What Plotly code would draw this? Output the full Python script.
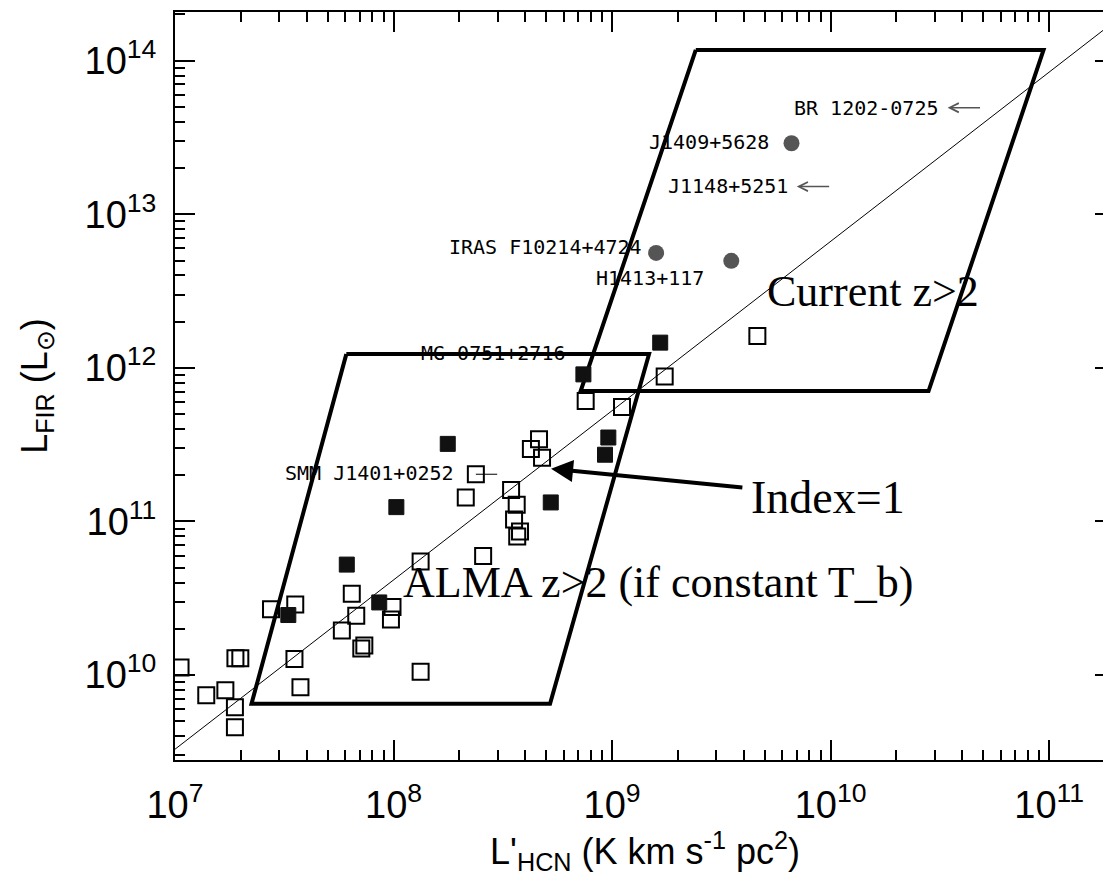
import math
import plotly.graph_objects as go

# ---------------- data ----------------
# open squares: local / low-z galaxies
open_x = [1.06e7, 1.39e7, 1.70e7, 1.88e7, 1.88e7, 1.89e7, 1.99e7, 2.75e7, 3.55e7, 3.52e7, 3.75e7,
          6.44e7, 6.75e7, 5.80e7, 7.12e7, 7.35e7, 9.89e7, 9.73e7, 1.33e8, 1.33e8, 2.14e8, 2.38e8,
          2.57e8, 3.45e8, 3.66e8, 3.56e8, 3.68e8, 3.79e8, 4.25e8, 4.63e8, 4.78e8, 7.57e8, 1.11e9,
          1.74e9, 4.62e9]
open_y = [1.12e10, 7.39e9, 7.97e9, 6.18e9, 4.58e9, 1.285e10, 1.285e10, 2.68e10, 2.88e10, 1.27e10, 8.33e9,
          3.38e10, 2.43e10, 1.95e10, 1.49e10, 1.56e10, 2.77e10, 2.30e10, 1.05e10, 5.48e10, 1.43e11, 2.03e11,
          5.95e10, 1.60e11, 1.285e11, 1.03e11, 7.97e10, 8.59e10, 2.96e11, 3.43e11, 2.60e11, 6.09e11, 5.57e11,
          8.78e11, 1.61e12]

# filled squares
filled_x = [3.30e7, 6.11e7, 8.60e7, 1.03e8, 1.77e8, 5.24e8, 7.39e8, 9.61e8, 9.28e8, 1.66e9]
filled_y = [2.46e10, 5.24e10, 2.97e10, 1.24e11, 3.20e11, 1.33e11, 9.07e11, 3.52e11, 2.72e11, 1.46e12]

# high-z detections (grey dots)
hiz_x = [1.59e9, 3.51e9, 6.62e9]
hiz_y = [5.60e12, 4.98e12, 2.90e13]

# high-z upper limits (arrow tails)
limit_x = [4.90e10, 1.00e10]
limit_y = [4.94e13, 1.515e13]

# SMM J1401+0252 (square with bar)
smm_x = [2.38e8, 2.98e8]
smm_y = [2.03e11, 2.03e11]

# Index = 1 relation
line_x = [1.0e7, 2.0e11]
line_y = [3.29e9, 1.81e14]

# parallelograms
current_box_x = [2.415e9, 9.42e10, 2.805e10, 7.18e8, 2.415e9]
current_box_y = [1.175e14, 1.175e14, 7.06e11, 7.06e11, 1.175e14]
alma_box_x = [6.08e7, 1.476e9, 5.20e8, 2.239e7, 6.08e7]
alma_box_y = [1.229e12, 1.229e12, 6.51e9, 6.51e9, 1.229e12]

# source labels: (text, left x, centre y)
src_labels = ["BR 1202-0725", "J1409+5628", "J1148+5251", "IRAS F10214+4724",
              "H1413+117", "MG 0751+2716", "SMM J1401+0252"]
src_label_x = [6.64e9, 1.444e9, 1.763e9, 1.76e8, 8.27e8, 1.311e8, 3.13e7]
src_label_y = [4.94e13, 2.97e13, 1.538e13, 6.09e12, 3.83e12, 1.248e12, 2.075e11]

x_tickvals = [1e7, 1e8, 1e9, 1e10, 1e11]
x_ticktext = ["10<sup>7</sup>", "10<sup>8</sup>", "10<sup>9</sup>", "10<sup>10</sup>", "10<sup>11</sup>"]
y_tickvals = [1e10, 1e11, 1e12, 1e13, 1e14]
y_ticktext = ["10<sup>10</sup>", "10<sup>11</sup>", "10<sup>12</sup>", "10<sup>13</sup>", "10<sup>14</sup>"]


def minors(lo, hi):
    out = []
    for e in range(lo, hi + 1):
        for m in range(2, 10):
            out.append(m * 10 ** e)
    return out


x_minor = minors(7, 11)
y_minor = minors(9, 14)

L = math.log10
SANS = "Liberation Sans Narrow, Liberation Sans, Arial, sans-serif"
SERIF = "Liberation Serif, Times New Roman, serif"
MONO = "DejaVu Sans Mono, monospace"

fig = go.Figure()
fig.add_trace(go.Scatter(x=line_x, y=line_y, mode="lines",
                         line=dict(color="black", width=1), hoverinfo="skip"))
fig.add_trace(go.Scatter(x=current_box_x, y=current_box_y, mode="lines",
                         line=dict(color="black", width=4), hoverinfo="skip"))
fig.add_trace(go.Scatter(x=alma_box_x, y=alma_box_y, mode="lines",
                         line=dict(color="black", width=4), hoverinfo="skip"))
fig.add_trace(go.Scatter(x=smm_x, y=smm_y, mode="lines",
                         line=dict(color="black", width=1), hoverinfo="skip"))
fig.add_trace(go.Scatter(x=open_x, y=open_y, mode="markers",
                         marker=dict(symbol="square-open", size=16, color="black",
                                     line=dict(width=2, color="black"))))
fig.add_trace(go.Scatter(x=filled_x, y=filled_y, mode="markers",
                         marker=dict(symbol="square", size=15, color="#111111",
                                     line=dict(width=1, color="#111111"))))
fig.add_trace(go.Scatter(x=hiz_x, y=hiz_y, mode="markers",
                         marker=dict(symbol="circle", size=16, color="#555555",
                                     line=dict(width=0))))

annotations = []
# upper-limit arrows
for tx, ty in zip(limit_x, limit_y):
    annotations.append(dict(x=L(tx * 0.70), y=L(ty), ax=L(tx), ay=L(ty),
                            xref="x", yref="y", axref="x", ayref="y", text="",
                            showarrow=True, arrowhead=5, arrowsize=1.2, arrowwidth=1.5,
                            arrowcolor="#555555"))
# source labels
for t, lx, ly in zip(src_labels, src_label_x, src_label_y):
    annotations.append(dict(x=L(lx), y=L(ly), xref="x", yref="y", text=t, showarrow=False,
                            xanchor="left", yanchor="middle",
                            font=dict(family=MONO, size=20, color="black")))
# big labels
annotations.append(dict(x=9.6988, y=12.4987, xref="x", yref="y", text="Current z>2",
                        showarrow=False, xanchor="left", yanchor="middle",
                        font=dict(family=SERIF, size=44, color="black")))
annotations.append(dict(x=9.6257, y=11.1545, xref="x", yref="y", text="Index=1",
                        showarrow=False, xanchor="left", yanchor="middle",
                        font=dict(family=SERIF, size=46, color="black")))
annotations.append(dict(x=8.0352, y=10.6026, xref="x", yref="y",
                        text="ALMA z>2 (if constant T_b)",
                        showarrow=False, xanchor="left", yanchor="middle",
                        font=dict(family=SERIF, size=44, color="black")))
# Index=1 arrow
annotations.append(dict(x=8.7207, y=11.3429, ax=9.6029, ay=11.2195, xref="x", yref="y",
                        axref="x", ayref="y", text="", showarrow=True, arrowhead=2,
                        arrowsize=1.1, arrowwidth=4, arrowcolor="black"))

axis_common = dict(type="log", ticks="inside", ticklen=20, tickwidth=2, tickcolor="black",
                   showline=True, linecolor="black", linewidth=2, mirror="ticks",
                   showgrid=False, zeroline=False,
                   tickfont=dict(family=SANS, size=38, color="black"))

fig.update_layout(
    width=1111, height=880,
    margin=dict(l=167, r=2, t=2, b=128),
    paper_bgcolor="white", plot_bgcolor="white",
    showlegend=False,
    xaxis=dict(axis_common, range=[7, L(2e11)], tickmode="array", tickvals=x_tickvals,
               ticktext=x_ticktext, ticklabelstandoff=10,
               minor=dict(tickmode="array", tickvals=x_minor, ticks="inside", ticklen=10,
                          tickwidth=1.5, tickcolor="black", showgrid=False),
               title=dict(text="L'<sub>HCN</sub> (K km s<sup>-1</sup> pc<sup>2</sup>)",
                          font=dict(family=SANS, size=36, color="black"), standoff=12)),
    yaxis=dict(axis_common, range=[9.447, 14.317], tickmode="array", tickvals=y_tickvals,
               ticktext=y_ticktext, ticklabelstandoff=9,
               minor=dict(tickmode="array", tickvals=y_minor, ticks="inside", ticklen=10,
                          tickwidth=1.5, tickcolor="black", showgrid=False),
               title=dict(text="L<sub>FIR</sub> (L<sub>⊙</sub>)",
                          font=dict(family=SANS, size=36, color="black"), standoff=26)),
    annotations=annotations,
)

fig.write_html("out.html")
